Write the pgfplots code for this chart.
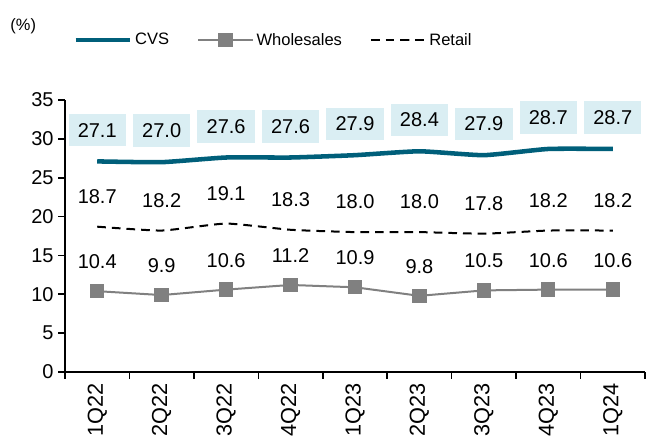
\documentclass[border=0pt]{standalone}
\usepackage{pgfplots}
\pgfplotsset{compat=1.18}
\usepackage{fontspec}
\setmainfont{Liberation Sans}
\definecolor{cvs}{HTML}{005F7A}
\definecolor{wh}{HTML}{808080}
\definecolor{lbl}{HTML}{DAEEF3}
\newcommand{\fs}{\fontsize{15}{17}\selectfont}
\newcommand{\fx}{\fontsize{16.3}{18}\selectfont}
\newcommand{\fl}{\fontsize{12.4}{14}\selectfont}
\begin{document}
\begin{tikzpicture}
\begin{axis}[
  width=435pt, height=204pt, scale only axis,
  xmin=-0.5, xmax=8.5, ymin=0, ymax=35,
  axis x line*=bottom, axis y line*=left,
  axis line style={line width=1.2pt, black},
  xtick={0,...,8},
  xticklabels={1Q22,2Q22,3Q22,4Q22,1Q23,2Q23,3Q23,4Q23,1Q24},
  major x tick style={draw=none},
  minor xtick={-0.5,0.5,...,8.5},
  minor tick length=5pt,
  minor x tick style={line width=1.2pt, black},
  x tick label style={rotate=90, anchor=east, font=\fx},
  ytick={0,5,...,35},
  major tick length=5pt,
  y tick style={line width=1.2pt, black},
  y tick label style={font=\fs},
  tick align=outside,
  /pgf/number format/assume math mode=true,
  legend style={at={(axis description cs:0.36,1.22)}, anchor=center, draw=none, fill=none,
    font=\fl, legend columns=3, inner sep=0pt,
    /tikz/every even column/.append style={column sep=19pt}},
  legend image code/.code={\draw[mark repeat=2, mark phase=2, #1] plot coordinates {(0pt,0pt) (20.5pt,0pt) (41pt,0pt)};},
  nodes near coords,
  point meta=y,
  nodes near coords style={font=\fs, anchor=center,
    /pgf/number format/fixed, /pgf/number format/fixed zerofill, /pgf/number format/precision=1},
  clip=false,
]
\addplot[cvs, line width=3.4pt, smooth, tension=0.3,
  nodes near coords style={yshift=23.5pt, fill=lbl, text=black, minimum width=43pt, minimum height=24.5pt, inner sep=0pt}]
  coordinates {(0,27.1) (1,27.0) (2,27.6) (3,27.6) (4,27.9) (5,28.4) (6,27.9) (7,28.7) (8,28.7)};
\addlegendentry{CVS}
\addplot[wh, line width=1.5pt, mark=square*, mark size=5pt, mark options={solid, fill=wh, draw=wh, line width=0pt},
  nodes near coords style={yshift=22pt, text=black}]
  coordinates {(0,10.4) (1,9.9) (2,10.6) (3,11.2) (4,10.9) (5,9.8) (6,10.5) (7,10.6) (8,10.6)};
\addlegendentry{Wholesales}
\addplot[black, line width=1.5pt, dash pattern=on 6.5pt off 4.5pt, smooth, tension=0.3,
  nodes near coords style={yshift=22.5pt, text=black, solid}]
  coordinates {(0,18.7) (1,18.2) (2,19.1) (3,18.3) (4,18.0) (5,18.0) (6,17.8) (7,18.2) (8,18.2)};
\addlegendentry{Retail}
\node[font=\fontsize{12.3}{14}\selectfont] at (axis description cs:-0.072,1.27) {(\%)};
\coordinate (O) at (rel axis cs:0,0);
\end{axis}
\path (O) ++(-48.75pt,-51.75pt);
\path (O) ++(440.25pt,279pt);
\end{tikzpicture}
\end{document}
